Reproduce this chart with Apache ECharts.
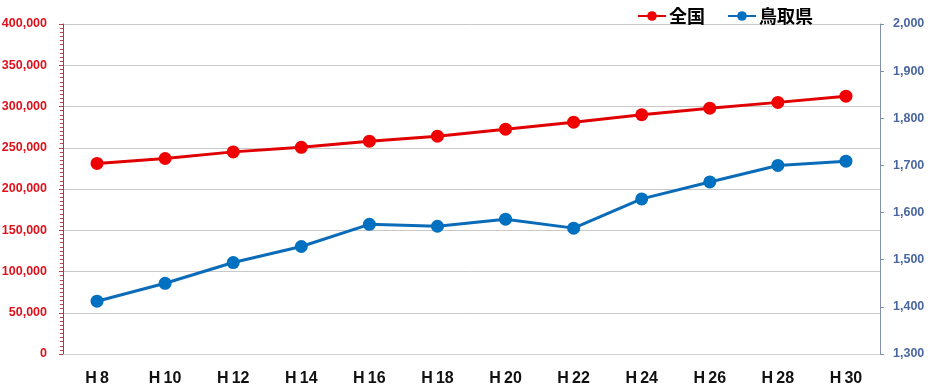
<!DOCTYPE html>
<html>
<head>
<meta charset="utf-8">
<script src="https://cdn.jsdelivr.net/npm/echarts@6/dist/echarts.min.js"></script>
<style>html,body{margin:0;padding:0;background:#fff;}#c{width:929px;height:386px;}</style>
</head>
<body>
<div id="c"></div>
<script>
var categories = ['H\u20098','H\u200910','H\u200912','H\u200914','H\u200916','H\u200918','H\u200920','H\u200922','H\u200924','H\u200926','H\u200928','H\u200930'];
var zenkoku = [231000, 237000, 245000, 250500, 258000, 264000, 272500, 281000, 290000, 298000, 305000, 312500];
var tottori = [1412, 1450, 1494, 1528, 1575, 1571, 1586, 1567, 1629, 1665, 1700, 1709];
var leftTicks = {min: 0, max: 400000, interval: 50000};
var rightTicks = {min: 1300, max: 2000, interval: 100};

var chart = echarts.init(document.getElementById('c'));
var fmt = function(v){ return v.toLocaleString('en-US'); };
chart.setOption({
  animation: false,
  textStyle: {fontFamily: 'Noto Sans CJK JP, Liberation Sans, sans-serif'},
  grid: {left: 63, right: 49, top: 24, bottom: 32, containLabel: false, outerBoundsMode: 'none'},
  legend: {
    right: 111, top: 2,
    itemWidth: 28, itemHeight: 12, itemGap: 22,
    textStyle: {fontSize: 18, fontWeight: 'bold', color: '#000', fontFamily: 'Noto Sans CJK JP', padding: [0, 0, 0, -2]},
    data: ['全国', '鳥取県']
  },
  xAxis: {
    type: 'category',
    data: categories,
    boundaryGap: true,
    axisLine: {lineStyle: {color: '#d0d0d0'}},
    axisTick: {show: false},
    axisLabel: {color: '#111', fontWeight: 'bold', fontSize: 16, margin: 17, fontFamily: 'Liberation Sans, sans-serif'}
  },
  yAxis: [{
    type: 'value',
    min: leftTicks.min, max: leftTicks.max, interval: leftTicks.interval,
    axisLine: {show: true, lineStyle: {color: '#e8202a', width: 1}},
    axisTick: {show: true, length: 4, lineStyle: {color: '#c04050'}},
    minorTick: {show: true, splitNumber: 10, length: 3, lineStyle: {color: '#c04050'}},
    splitLine: {lineStyle: {color: '#c8c8c8'}},
    axisLabel: {color: '#e0101a', fontSize: 12.5, fontWeight: 'bold', margin: 16, formatter: fmt, fontFamily: 'Liberation Sans, sans-serif'}
  }, {
    type: 'value',
    min: rightTicks.min, max: rightTicks.max, interval: rightTicks.interval,
    position: 'right',
    axisLine: {show: true, lineStyle: {color: '#8090a8', width: 1}},
    axisTick: {show: true, length: 4, lineStyle: {color: '#8090a8'}},
    splitLine: {show: false},
    axisLabel: {color: '#4a66a0', fontSize: 12.5, fontWeight: 'bold', margin: 13, formatter: fmt, fontFamily: 'Liberation Sans, sans-serif'}
  }],
  series: [{
    name: '全国',
    type: 'line',
    yAxisIndex: 0,
    data: zenkoku,
    symbol: 'circle', symbolSize: 13,
    itemStyle: {color: '#f00000'},
    lineStyle: {color: '#e00000', width: 3}
  }, {
    name: '鳥取県',
    type: 'line',
    yAxisIndex: 1,
    data: tottori,
    symbol: 'circle', symbolSize: 13,
    itemStyle: {color: '#0070c0'},
    lineStyle: {color: '#0a6cb8', width: 3}
  }]
});
</script>
</body>
</html>
